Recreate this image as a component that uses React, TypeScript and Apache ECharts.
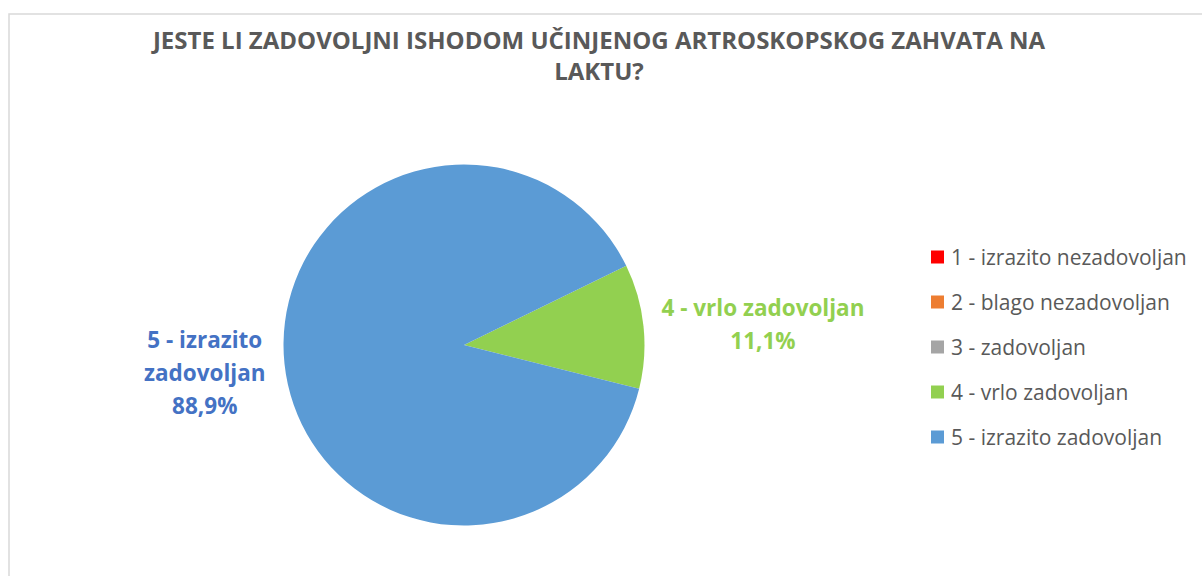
import React, { useEffect, useRef } from "react";
import * as echarts from "echarts";

const titleText = "JESTE LI ZADOVOLJNI ISHODOM UČINJENOG ARTROSKOPSKOG ZAHVATA NA\nLAKTU?";
const categories = [
  "1 - izrazito nezadovoljan",
  "2 - blago nezadovoljan",
  "3 - zadovoljan",
  "4 - vrlo zadovoljan",
  "5 - izrazito zadovoljan",
];
const labelNames = [
  "1 - izrazito\nnezadovoljan",
  "2 - blago\nnezadovoljan",
  "3 - zadovoljan",
  "4 - vrlo zadovoljan",
  "5 - izrazito\nzadovoljan",
];
const values = [0, 0, 0, 1, 8];
const sliceColors = ["#FF0000", "#ED7D31", "#A5A5A5", "#92D050", "#5B9BD5"];
const labelColors = ["#FF0000", "#ED7D31", "#A5A5A5", "#92D050", "#4472C4"];
const labelShift = [
  [0, 0],
  [0, 0],
  [0, 0],
  [-3, -1],
  [2, 8],
];

const FONT = "'Open Sans', 'Noto Sans', sans-serif";

export default function App() {
  const ref = useRef<HTMLDivElement>(null);
  useEffect(() => {
    document.body.style.margin = "0";
    const chart = echarts.init(ref.current!, null, { renderer: "svg" });
    chart.setOption({
      animation: false,
      backgroundColor: "#ffffff",
      title: {
        text: titleText,
        left: 594,
        top: 19,
        textAlign: "center",
        textStyle: {
          fontFamily: FONT,
          fontWeight: "bold",
          fontSize: 24,
          lineHeight: 31,
          color: "#595959",
        },
      },
      graphic: [
        {
          type: "rect",
          shape: { x: 9, y: 14, width: 1400, height: 800 },
          style: { fill: "none", stroke: "#d9d9d9", lineWidth: 1.5 },
          silent: true,
          z: -1,
        },
      ],
      legend: {
        orient: "vertical",
        left: 926,
        top: 240,
        icon: "rect",
        itemWidth: 13,
        itemHeight: 13,
        itemGap: 21,
        data: categories,
        textStyle: {
          fontFamily: FONT,
          fontSize: 21,
          lineHeight: 24,
          color: "#595959",
          padding: [0, 0, 0, 2],
        },
      },
      series: [
        {
          type: "pie",
          center: [464, 345],
          radius: 180.5,
          startAngle: 26,
          clockwise: true,
          avoidLabelOverlap: false,
          minShowLabelAngle: 0,
          labelLine: { show: false, length: 10, length2: 6 },
          labelLayout: (p: any) => ({
            dx: labelShift[p.dataIndex][0],
            dy: labelShift[p.dataIndex][1],
          }),
          emphasis: { disabled: true },
          data: categories.map((c, i) => ({
            name: c,
            value: values[i],
            itemStyle: { color: sliceColors[i] },
            label: {
              show: values[i] > 0,
              position: "outside",
              formatter: (p: any) =>
                "{t|" + labelNames[i] + "\n" + p.percent.toFixed(1).replace(".", ",") + "%}",
              rich: {
                t: {
                  align: "center",
                  fontFamily: FONT,
                  fontWeight: "bold",
                  fontSize: 22.5,
                  lineHeight: 33,
                  color: labelColors[i],
                },
              },
            },
          })),
        },
      ],
    });
    return () => chart.dispose();
  }, []);
  return <div ref={ref} style={{ width: 1202, height: 576 }} />;
}
